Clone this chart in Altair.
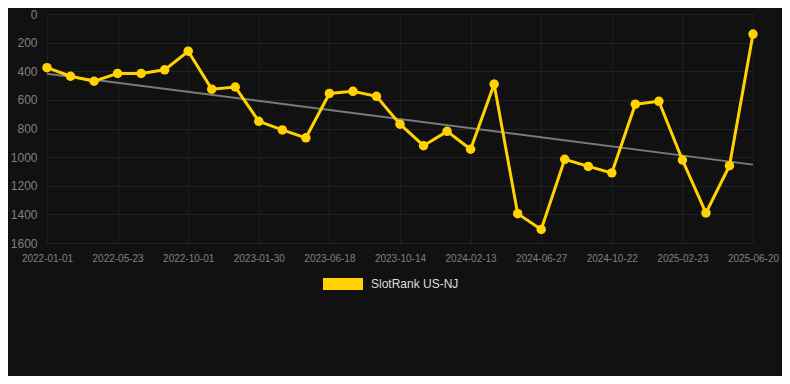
import altair as alt
import pandas as pd

dates = [
    "2022-01-01", "2022-02-17", "2022-04-05", "2022-05-23", "2022-07-06", "2022-08-18",
    "2022-10-01", "2022-11-10", "2022-12-20", "2023-01-30", "2023-03-17", "2023-05-02",
    "2023-06-18", "2023-07-27", "2023-09-05", "2023-10-14", "2023-11-24", "2024-01-03",
    "2024-02-13", "2024-03-29", "2024-05-13", "2024-06-27", "2024-08-05", "2024-09-13",
    "2024-10-22", "2024-12-03", "2025-01-13", "2025-02-23", "2025-04-03", "2025-05-12",
    "2025-06-20",
]
ranks = [
    375, 435, 470, 415, 415, 390, 260, 525, 510, 750, 810, 865, 555, 540, 575, 770,
    920, 820, 945, 490, 1395, 1505, 1015, 1065, 1110, 630, 610, 1020, 1390, 1060, 140,
]
series_name = "SlotRank US-NJ"
y_ticks = [0, 200, 400, 600, 800, 1000, 1200, 1400, 1600]

df = pd.DataFrame({"idx": list(range(len(dates))), "date": dates, "rank": ranks,
                   "series": series_name})

label_expr = "[" + ",".join(f"'{d}'" for d in dates) + "][datum.value]"

YELLOW = "#FFD200"

x_enc = alt.X("idx:Q", scale=alt.Scale(domain=[0, len(dates) - 1], nice=False, zero=False),
              axis=alt.Axis(values=list(range(0, len(dates), 3)), labelExpr=label_expr,
                            title=None, grid=True, gridColor="#1f1f1f", domain=False,
                            ticks=False, labelPadding=10, labelFontSize=10,
                            labelOverlap=False, labelFlush=False,
                            labelColor="#808080", labelFont="Liberation Sans"))
y_enc = alt.Y("rank:Q", scale=alt.Scale(domain=[0, 1600], reverse=True, nice=False),
              axis=alt.Axis(values=y_ticks, format="d", title=None, grid=True,
                            gridColor="#222222", domain=False, ticks=False, labelPadding=10,
                            labelFontSize=12, labelOverlap=False, labelFlush=False,
                            labelColor="#808080", labelFont="Liberation Sans"))

base = alt.Chart(df)

trend = base.transform_regression("idx", "rank").mark_line(
    color="#7a7a7a", strokeWidth=2
).encode(x=x_enc, y=y_enc)

color_enc = alt.Color("series:N", scale=alt.Scale(domain=[series_name], range=[YELLOW]),
                      legend=alt.Legend(title=None, orient="none", legendX=276, legendY=250,
                                        symbolType="M-1,-0.3H1V0.3H-1Z", symbolSize=1600,
                                        symbolStrokeWidth=0, labelColor="#dddddd",
                                        labelFontSize=12, labelFont="Liberation Sans",
                                        padding=0, symbolOffset=0, labelOffset=8))

line = base.mark_line(strokeWidth=3).encode(x=x_enc, y=y_enc, color=color_enc)
pts = base.mark_circle(size=90, opacity=1).encode(x=x_enc, y=y_enc, color=color_enc)

chart = alt.layer(trend, line, pts).properties(
    width=706, height=229, background="#111111",
    padding={"left": 39, "top": 6, "right": 29, "bottom": 133},
    autosize=alt.AutoSizeParams(type="none"),
).configure_view(stroke=None).configure_axis(labelOverlap=False)

chart.save("out.html", embed_options={"renderer": "svg", "actions": False})
